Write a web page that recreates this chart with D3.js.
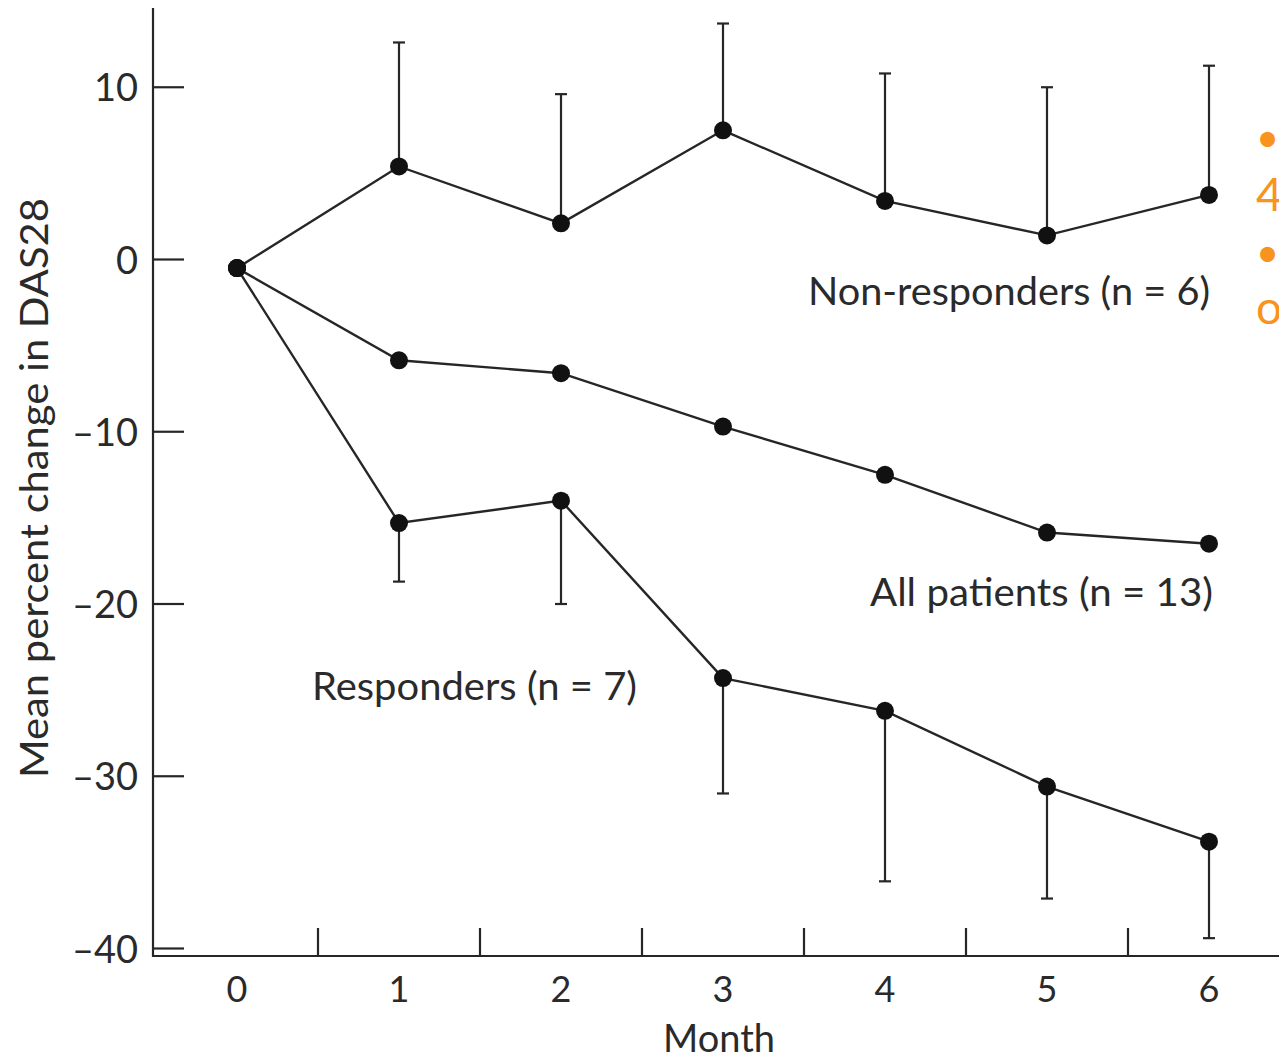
<!DOCTYPE html>
<html>
<head>
<meta charset="utf-8">
<script src="https://cdn.jsdelivr.net/npm/d3@7"></script>
<style>
	body { margin: 0; background: #fff; overflow: hidden; }
	svg { display: block; }
	text { font-family: Lato, "Open Sans", sans-serif; fill: #2a2a2a; }
</style>
</head>
<body>
<script>
// values
const months = [0, 1, 2, 3, 4, 5, 6];
const nonResponders = [-0.5, 5.4, 2.1, 7.5, 3.4, 1.4, 3.75];
const nonRespondersUpper = [null, 12.6, 9.6, 13.7, 10.8, 10.0, 11.25];
const allPatients = [-0.5, -5.85, -6.6, -9.7, -12.5, -15.85, -16.5];
const responders = [-0.5, -15.3, -14.0, -24.3, -26.2, -30.6, -33.8];
const respondersLower = [null, -18.7, -20.0, -31.0, -36.1, -37.1, -39.4];
const yTicks = [10, 0, -10, -20, -30, -40];

const width = 1279, height = 1060;

const svg = d3.select("body").append("svg")
	.attr("width", width)
	.attr("height", height);

const x = d3.scaleLinear().domain([0, 6]).range([237, 1209]);
const y = d3.scaleLinear().domain([0, -40]).range([259.5, 948.5]);

const axisX = 153, axisY = 956;
const ink = "#262626";

// y axis
svg.append("line")
	.attr("x1", axisX).attr("x2", axisX)
	.attr("y1", 8).attr("y2", axisY + 1)
	.attr("stroke", ink).attr("stroke-width", 2.2);

svg.selectAll(".ytick").data(yTicks).enter().append("line")
	.attr("x1", axisX).attr("x2", axisX + 31)
	.attr("y1", d => y(d)).attr("y2", d => y(d))
	.attr("stroke", ink).attr("stroke-width", 2.2);

svg.selectAll(".ylab").data(yTicks).enter().append("text")
	.attr("x", 138)
	.attr("y", d => y(d) + 14)
	.attr("text-anchor", "end")
	.attr("font-size", 38)
	.text(d => d < 0 ? "\u2013" + Math.abs(d) : d);

// x axis
svg.append("line")
	.attr("x1", axisX - 1).attr("x2", width)
	.attr("y1", axisY).attr("y2", axisY)
	.attr("stroke", ink).attr("stroke-width", 2.2);

svg.selectAll(".xtick").data(months.slice(0, 6)).enter().append("line")
	.attr("x1", d => x(d + 0.5)).attr("x2", d => x(d + 0.5))
	.attr("y1", axisY).attr("y2", axisY - 28)
	.attr("stroke", ink).attr("stroke-width", 2.2);

svg.selectAll(".xlab").data(months).enter().append("text")
	.attr("x", d => x(d))
	.attr("y", 1002)
	.attr("text-anchor", "middle")
	.attr("font-size", 36)
	.text(d => d);

svg.append("text")
	.attr("x", x(3) - 4).attr("y", 1052)
	.attr("text-anchor", "middle")
	.attr("font-size", 38)
	.text("Month");

svg.append("text")
	.attr("transform", "translate(48," + 488 + ") rotate(-90)")
	.attr("text-anchor", "middle")
	.attr("font-size", 38)
	.attr("textLength", 580)
	.attr("lengthAdjust", "spacingAndGlyphs")
	.text("Mean percent change in DAS28");

// error bars
function errorBars(vals, ends) {
	const g = svg.append("g").attr("stroke", ink).attr("stroke-width", 2.2);
	months.forEach((m, i) => {
		if (ends[i] == null) return;
		g.append("line")
			.attr("x1", x(m)).attr("x2", x(m))
			.attr("y1", y(vals[i])).attr("y2", y(ends[i]));
		g.append("line")
			.attr("x1", x(m) - 6).attr("x2", x(m) + 6)
			.attr("y1", y(ends[i])).attr("y2", y(ends[i]));
	});
}
errorBars(nonResponders, nonRespondersUpper);
errorBars(responders, respondersLower);

const line = d3.line().x((d, i) => x(months[i])).y(d => y(d));

[nonResponders, allPatients, responders].forEach(s => {
	svg.append("path")
		.attr("d", line(s))
		.attr("fill", "none")
		.attr("stroke", ink)
		.attr("stroke-width", 2.4);
	svg.selectAll(null).data(s).enter().append("circle")
		.attr("cx", (d, i) => x(months[i]))
		.attr("cy", d => y(d))
		.attr("r", 9)
		.attr("fill", "#111");
});

// series labels
function seriesLabel(txt, x0, y0, len) {
	svg.append("text").attr("x", x0).attr("y", y0)
		.attr("font-size", 38)
		.attr("textLength", len)
		.attr("lengthAdjust", "spacingAndGlyphs")
		.text(txt);
}
seriesLabel("Non-responders (n = 6)", 808, 305, 402);
seriesLabel("All patients (n = 13)", 870, 606, 343);
seriesLabel("Responders (n = 7)", 312, 700, 325);

// clipped orange slide text at right edge
const orange = "#f7931e";
svg.append("text").attr("x", 1256).attr("y", 152).attr("font-size", 40)
	.style("fill", orange).text("\u2022 1");
svg.append("text").attr("x", 1256).attr("y", 211).attr("font-size", 46)
	.style("fill", orange).text("4");
svg.append("text").attr("x", 1256).attr("y", 267).attr("font-size", 40)
	.style("fill", orange).text("\u2022 .");
svg.append("text").attr("x", 1256).attr("y", 324).attr("font-size", 46)
	.style("fill", orange).text("o");
</script>
</body>
</html>
